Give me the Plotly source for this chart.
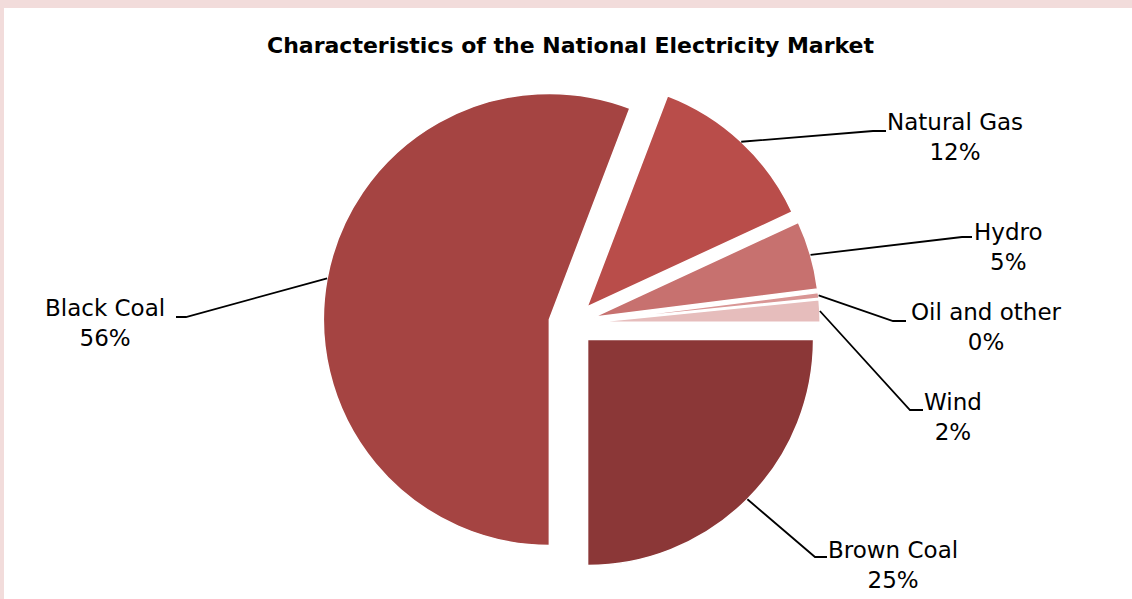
import math
import plotly.graph_objects as go

# ---- data ----
labels = ["Brown Coal", "Black Coal", "Natural Gas", "Hydro", "Oil and other", "Wind"]
values = [25.0, 55.8, 12.3, 4.9, 0.4, 1.6]
colors = ["#8B3737", "#A54442", "#B94D4A", "#C7716F", "#D99695", "#E6BDBC"]
title_text = "Characteristics of the National Electricity Market"

# ---- layout constants (pixels) ----
W, H = 1132, 599
CX, CY, R, PULL = 571.6, 323.5, 226.0, 0.1
BOX = R * (1 + PULL)

# label block centres and leader elbows (pixels)
label_pos = {
    "Natural Gas": (955, 136.5), "Hydro": (1008, 246.5), "Oil and other": (986, 327),
    "Wind": (953, 417), "Brown Coal": (893, 564.5), "Black Coal": (105, 323),
}
elbows = {
    "Natural Gas": [(873, 131), (886, 131)], "Hydro": [(962, 237), (972, 237)],
    "Oil and other": [(893, 321), (906, 321)], "Wind": [(910, 410), (923, 410)],
    "Brown Coal": [(815, 557), (827, 557)], "Black Coal": [(186, 317), (176, 317)],
}

def px(x):
    return x / W

def py(y):
    return 1 - y / H

fig = go.Figure(go.Pie(
    labels=labels, values=values, sort=False, direction="clockwise", rotation=90,
    pull=[PULL] * len(values),
    marker=dict(colors=colors, line=dict(color="white", width=1.5)),
    textinfo="none", hoverinfo="label+percent", showlegend=False,
    domain=dict(x=[px(CX - BOX), px(CX + BOX)], y=[py(CY + BOX), py(CY - BOX)]),
))

total = sum(values)
shapes = [dict(type="rect", xref="paper", yref="paper", x0=px(4), x1=1.0, y0=0, y1=py(8),
               fillcolor="white", line=dict(width=0), layer="below")]
annotations = [dict(text="<b>" + title_text + "</b>", x=px(570.5), y=py(45), xref="paper", yref="paper",
                    showarrow=False, xanchor="center", yanchor="middle",
                    font=dict(family="DejaVu Sans", size=22, color="#000000"))]

cum = 0.0
for lab, v in zip(labels, values):
    mid = 90 + 360 * (cum + v / 2) / total
    cum += v
    a = math.radians(mid)
    pcx = CX + PULL * R * math.sin(a)
    pcy = CY - PULL * R * math.cos(a)
    sx = pcx + R * math.sin(a)
    sy = pcy - R * math.cos(a)
    pts = [(sx, sy)] + elbows[lab]
    path = "M " + " L ".join(f"{px(x):.5f},{py(y):.5f}" for x, y in pts)
    shapes.append(dict(type="path", xref="paper", yref="paper", path=path,
                       line=dict(color="#000000", width=1.8)))
    lx, ly = label_pos[lab]
    pct = round(v / total * 100)
    annotations.append(dict(text=f"{lab}<br>{pct}%", x=px(lx), y=py(ly), xref="paper", yref="paper",
                            showarrow=False, xanchor="center", yanchor="middle", align="center",
                            font=dict(family="DejaVu Sans", size=23, color="#000000")))

fig.update_layout(
    width=W, height=H, margin=dict(l=0, r=0, t=0, b=0),
    paper_bgcolor="#F2DCDB", shapes=shapes, annotations=annotations,
)
fig.write_html("out.html")
